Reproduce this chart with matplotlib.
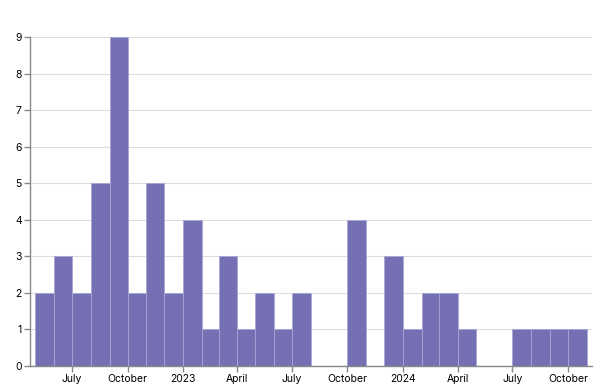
import matplotlib
matplotlib.use("Agg")
import matplotlib.pyplot as plt
import matplotlib.dates as mdates
import numpy as np
import datetime as dt

plt.rcParams['font.family'] = ['Inter', 'DejaVu Sans']

# monthly counts, May 2022 .. Oct 2024
months = ['2022-05', '2022-06', '2022-07', '2022-08', '2022-09', '2022-10',
          '2022-11', '2022-12', '2023-01', '2023-02', '2023-03', '2023-04',
          '2023-05', '2023-06', '2023-07', '2023-08', '2023-09', '2023-10',
          '2023-11', '2023-12', '2024-01', '2024-02', '2024-03', '2024-04',
          '2024-05', '2024-06', '2024-07', '2024-08', '2024-09', '2024-10']
counts = [2, 3, 2, 5, 9, 2, 5, 2, 4, 1, 3, 1, 2, 1, 2, 0, 0, 4, 0, 3,
          1, 2, 2, 1, 0, 0, 1, 1, 1, 1]
tick_dates = ['2022-07', '2022-10', '2023-01', '2023-04', '2023-07',
              '2023-10', '2024-01', '2024-04', '2024-07', '2024-10']
tick_labels = ['July', 'October', '2023', 'April', 'July',
               'October', '2024', 'April', 'July', 'October']

def to_date(s):
    y, m = s.split('-')
    return dt.date(int(y), int(m), 1)

def next_month(d):
    return dt.date(d.year + (d.month // 12), d.month % 12 + 1, 1)

starts = [to_date(m) for m in months]
widths = [(next_month(d) - d).days for d in starts]

fig = plt.figure(figsize=(6.08, 3.85), dpi=100)
ax = fig.add_axes([30/608, 1-366/385, (592-30)/608, (366-37)/385])

ax.bar(starts, counts, width=widths, align='edge', color='#7570b3',
       edgecolor='#a9a6d6', linewidth=0.6, zorder=2)

ax.set_ylim(0, 9)
ax.set_yticks(np.arange(0, 10))
ax.set_xlim(dt.date(2022, 4, 22), dt.date(2024, 11, 10))
ax.set_xticks([mdates.date2num(to_date(t)) for t in tick_dates])
ax.set_xticklabels(tick_labels)

ax.grid(axis='y', color='#dddddd', linewidth=0.8, zorder=0)
ax.set_axisbelow(True)
for s in ['top', 'right']:
    ax.spines[s].set_visible(False)
for s in ['left', 'bottom']:
    ax.spines[s].set_color('#888888')
    ax.spines[s].set_linewidth(1)
ax.tick_params(axis='both', colors='#888888', length=4, width=1,
               labelsize=7.5, labelcolor='#000000', pad=2)

fig.savefig('out.png', dpi=100)
